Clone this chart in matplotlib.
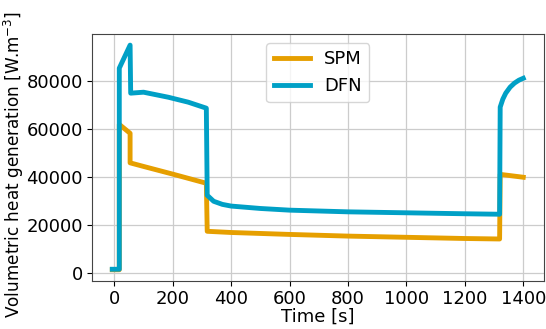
import matplotlib
matplotlib.use('Agg')
import matplotlib.pyplot as plt

# SPM curve (time [s], heat [W/m3])
spm_t = [-7, 17, 17, 54, 54, 100, 200, 315, 318, 400, 600, 800, 1000, 1200, 1319, 1321, 1400]
spm_q = [1500, 1500, 62000, 58300, 46000, 44500, 41300, 37500, 17500, 17000, 16200, 15500, 15000, 14500, 14300, 41200, 40000]

# DFN curve
dfn_t = [-7, 17, 17, 54, 56, 100, 185, 253, 315, 318, 340, 370, 400, 500, 600, 800, 1000, 1200, 1319, 1321,
         1330, 1340, 1355, 1370, 1385, 1400]
dfn_q = [1700, 1700, 85400, 95000, 75000, 75400, 73300, 71250, 68750, 32500, 30000, 28700, 28000, 27000, 26300,
         25600, 25200, 24800, 24600, 69200, 72500, 75000, 77500, 79200, 80400, 81200]

fs = 13

fig = plt.figure(figsize=(5.46, 3.29), dpi=100)
ax = fig.add_axes([0.168, 0.146, 0.828, 0.751])

ax.plot(spm_t, spm_q, color='#E69F00', lw=3.5, label='SPM')
ax.plot(dfn_t, dfn_q, color='#00A0C6', lw=3.5, label='DFN')

ax.grid(color='#cccccc', lw=0.9)
ax.set_xticks([0, 200, 400, 600, 800, 1000, 1200, 1400])
ax.set_yticks([0, 20000, 40000, 60000, 80000])
ax.tick_params(labelsize=fs, pad=3)
for s in ax.spines.values():
    s.set_color('#444444')

ax.set_xlabel('Time [s]', fontsize=fs, labelpad=0)
ax.set_ylabel('Volumetric heat generation [W.m$^{-3}$]', fontsize=12.2)
ax.yaxis.set_label_coords(-0.145, 0.47)
ax.legend(loc='upper center', fontsize=fs)

fig.savefig('out.png', dpi=100)
